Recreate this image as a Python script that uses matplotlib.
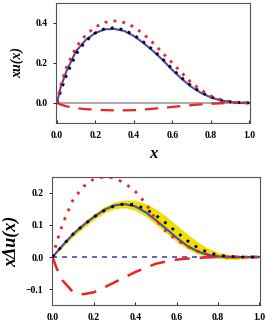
import matplotlib
matplotlib.use("Agg")
import matplotlib.pyplot as plt

x = [0, 0.02, 0.05, 0.1, 0.15, 0.2, 0.25, 0.3, 0.35, 0.4, 0.45, 0.5,
     0.55, 0.6, 0.65, 0.7, 0.75, 0.8, 0.85, 0.9, 0.95, 1.0]

# top panel: x u(x)
u_blue = [0, 0.08, 0.16, 0.26, 0.315, 0.35, 0.368, 0.37, 0.36, 0.335, 0.30, 0.26,
          0.215, 0.165, 0.12, 0.08, 0.05, 0.028, 0.013, 0.005, 0.001, 0]
u_black = [0, 0.06, 0.14, 0.245, 0.31, 0.35, 0.372, 0.376, 0.365, 0.34, 0.305, 0.265,
           0.22, 0.17, 0.125, 0.085, 0.053, 0.03, 0.015, 0.006, 0.002, 0]
u_red_dot = [0, 0.09, 0.18, 0.28, 0.34, 0.38, 0.403, 0.41, 0.402, 0.38, 0.345, 0.30,
             0.25, 0.2, 0.15, 0.1, 0.065, 0.035, 0.016, 0.006, 0.001, 0]
u_red_dash = [0, -0.008, -0.017, -0.026, -0.031, -0.034, -0.036, -0.037, -0.037, -0.036,
              -0.033, -0.029, -0.025, -0.02, -0.015, -0.011, -0.007, -0.004, -0.002, 0, 0, 0]

# bottom panel: x Delta u(x)
du_blue = [0, 0.015, 0.037, 0.072, 0.1, 0.125, 0.147, 0.161, 0.165, 0.158, 0.14, 0.115,
           0.088, 0.06, 0.036, 0.018, 0.007, 0.002, 0, 0, 0, 0]
du_black = [0, 0.015, 0.037, 0.072, 0.1, 0.125, 0.145, 0.16, 0.166, 0.163, 0.15, 0.13,
            0.105, 0.078, 0.052, 0.03, 0.015, 0.006, 0.002, 0, 0, 0]
du_lo = [0, 0.012, 0.032, 0.064, 0.091, 0.116, 0.137, 0.151, 0.154, 0.146, 0.127, 0.102,
         0.075, 0.048, 0.026, 0.01, 0.0, -0.005, -0.007, -0.007, -0.004, 0]
du_hi = [0, 0.018, 0.042, 0.08, 0.109, 0.135, 0.157, 0.172, 0.178, 0.177, 0.167, 0.15,
         0.127, 0.1, 0.073, 0.048, 0.028, 0.015, 0.008, 0.005, 0.002, 0]
du_red_dot = [0, 0.045, 0.105, 0.18, 0.22, 0.244, 0.25, 0.247, 0.23, 0.205, 0.168, 0.116,
              0.079, 0.053, 0.034, 0.019, 0.008, 0.002, 0, 0, 0, 0]
du_red_dash = [0, -0.035, -0.074, -0.11, -0.116, -0.11, -0.095, -0.079, -0.063, -0.047,
               -0.034, -0.021, -0.014, -0.008, -0.005, -0.003, -0.001, 0, 0, 0, 0, 0]

top_yticks = [0.0, 0.2, 0.4]
bot_yticks = [-0.1, 0.0, 0.1, 0.2]
xticks = [0.0, 0.2, 0.4, 0.6, 0.8, 1.0]

RED = "#ee2222"
BLUE = "#4a4ab8"
YEL = "#eee000"
plt.rcParams['font.family'] = ['Liberation Serif', 'DejaVu Serif']

fig = plt.figure(figsize=(2.73, 3.27), dpi=100)
ax1 = fig.add_axes([0.205, 0.624, 0.711, 0.367])
ax2 = fig.add_axes([0.19, 0.067, 0.762, 0.392])

# top
ax1.axhline(0, color="#999999", lw=1.2, zorder=1)
ax1.plot(x, u_red_dash, color=RED, lw=1.6, dashes=(6, 4), zorder=3)
ax1.plot(x, u_blue, color=BLUE, lw=1.5, zorder=3)
ax1.plot(x, u_black, color="black", lw=2.0, dashes=(1, 2.2), zorder=4)
ax1.plot(x, u_red_dot, color=RED, lw=2.0, dashes=(1, 2.2), zorder=4)
ax1.set_xlim(-0.005, 1.005)
ax1.set_ylim(-0.1, 0.5)
ax1.set_yticks(top_yticks)
ax1.set_xticks(xticks)
ax1.set_xlabel("x", fontsize=12, fontstyle="italic", fontweight="bold", labelpad=4)
ax1.set_ylabel("xu(x)", fontsize=10, fontstyle="italic", fontweight="bold", labelpad=8)

# bottom
ax2.fill_between(x, du_lo, du_hi, color=YEL, lw=0, zorder=1)
ax2.axhline(0, color=BLUE, lw=1.2, dashes=(3, 3), zorder=2)
ax2.plot(x, du_red_dash, color=RED, lw=1.8, dashes=(6, 4), zorder=3)
ax2.plot(x, du_blue, color=BLUE, lw=1.5, zorder=3)
ax2.plot(x, du_red_dot, color=RED, lw=2.0, dashes=(1, 2.5), zorder=4)
ax2.plot(x, du_black, color="black", lw=2.0, dashes=(1, 2.5), zorder=4)
ax2.set_xlim(-0.003, 1.003)
ax2.set_ylim(-0.15, 0.25)
ax2.set_yticks(bot_yticks)
ax2.set_xticks(xticks)
ax2.set_ylabel("x\u0394u(x)", fontsize=13, fontstyle="italic", fontweight="bold", labelpad=4)

for ax in (ax1, ax2):
    for s in ax.spines.values():
        s.set_color("#555555")
        s.set_linewidth(0.8)
    ax.tick_params(axis="x", direction="in", length=2, width=0.6, labelsize=7, pad=6)
    ax.tick_params(axis="y", direction="out", length=2, width=0.6, labelsize=7, pad=4)
    for lab in ax.get_xticklabels() + ax.get_yticklabels():
        lab.set_fontweight("bold")
    ax.set_yticklabels([("\u22120.1" if v < 0 else f"{v:.1f}") for v in ax.get_yticks()])
    ax.set_xticklabels([f"{v:.1f}" for v in xticks])
    for lab in ax.get_xticklabels() + ax.get_yticklabels():
        lab.set_fontweight("bold")

fig.savefig("out.png", dpi=100)
